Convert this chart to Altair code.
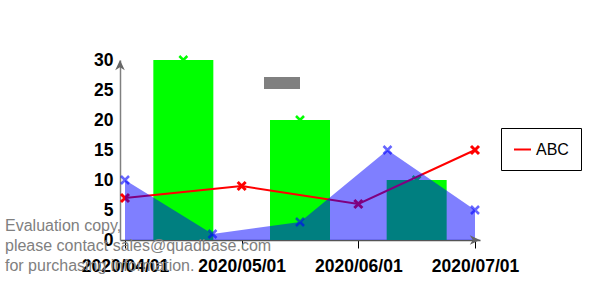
import altair as alt
import pandas as pd

# ---- data ----
tick_labels = ["2020/04/01", "2020/05/01", "2020/06/01", "2020/07/01"]
tick_pos = [0, 1, 2, 3]

bar_x = [0.5, 1.5, 2.5]
bar_y = [30, 20, 10]

red_x = [0, 1, 2, 3]
red_y = [7, 9, 6, 15]
series_name = "ABC"

blue_x = [0, 0.75, 1.5, 2.25, 3]
blue_y = [10, 1, 3, 15, 5]

watermark = ["Evaluation copy,", "please contact sales@quadbase.com", "for purchasing information."]

bars = pd.DataFrame({"x": bar_x, "y": bar_y})
red = pd.DataFrame({"x": red_x, "y": red_y, "series": series_name})
blue = pd.DataFrame({"x": blue_x, "y": blue_y})

FONT = "Liberation Sans"
label_expr = "[" + ",".join("'%s'" % t for t in tick_labels) + "][datum.value]"

x_axis = alt.Axis(values=tick_pos, labelExpr=label_expr, grid=False, title=None,
                  tickSize=8, tickColor="black", tickWidth=1,
                  domainColor="#555555", domainWidth=1.5,
                  labelFont=FONT, labelFontSize=17.5, labelFontWeight="bold",
                  labelColor="black", labelPadding=9, labelFlush=False,
                  labelOverlap=False)
y_axis = alt.Axis(values=[0, 5, 10, 15, 20, 25, 30], grid=False, title=None,
                  ticks=False, domainColor="#808080", domainWidth=1.5,
                  labelFont=FONT, labelFontSize=17.5, labelFontWeight="bold",
                  labelColor="black", labelPadding=7)

def X():
    return alt.X("x:Q", scale=alt.Scale(domain=[0, 3], nice=False, zero=False), axis=x_axis)

def Y():
    return alt.Y("y:Q", scale=alt.Scale(domain=[0, 30], nice=False), axis=y_axis)

XSHAPE = "M-1,-1L1,1M-1,1L1,-1"

bar_layer = alt.Chart(bars).mark_bar(size=60, color="#00ff00").encode(x=X(), y=Y())
bar_pts = alt.Chart(bars).mark_point(shape=XSHAPE, size=64, strokeWidth=2.5,
                                     color="#00ff00", filled=False, opacity=1).encode(x=X(), y=Y())

red_line = alt.Chart(red).mark_line(strokeWidth=2).encode(
    x=X(), y=Y(),
    color=alt.Color("series:N", scale=alt.Scale(domain=[series_name], range=["#ff0000"]),
                    legend=alt.Legend(title=None, orient="none", legendX=381, legendY=68,
                                      strokeColor="black", fillColor="white", padding=12,
                                      symbolType="stroke", symbolSize=289, symbolStrokeWidth=2,
                                      labelFont=FONT, labelFontSize=16, labelOffset=4,
                                      labelColor="black")))
red_pts = alt.Chart(red).mark_point(shape=XSHAPE, size=64, strokeWidth=3,
                                    color="#ff0000", filled=False, opacity=1).encode(x=X(), y=Y())

blue_area = alt.Chart(blue).mark_area(color="#0000ff", opacity=0.5).encode(x=X(), y=Y())
blue_pts = alt.Chart(blue).mark_point(shape=XSHAPE, size=64, strokeWidth=2.5,
                                      color="#0000ff", filled=False, opacity=0.6).encode(x=X(), y=Y())

ARROW = "M0,-1L0.8,0.7L0,0.2L-0.8,0.7Z"
one = alt.Data(values=[{}])
arrow_y = alt.Chart(one).mark_point(shape=ARROW, size=144, filled=True, color="#666666",
                                    opacity=1).encode(x=alt.value(0), y=alt.value(6))
arrow_x = alt.Chart(one).mark_point(shape=ARROW, size=144, filled=True, color="#666666",
                                    opacity=1, angle=90).encode(x=alt.value(354), y=alt.value(180))

gray_rect = alt.Chart(one).mark_rect(color="#808080").encode(
    x=alt.value(144), x2=alt.value(180), y=alt.value(17), y2=alt.value(29))

wm = alt.Chart(one).mark_text(align="left", baseline="alphabetic", font=FONT, fontSize=16,
                              color="#808080", lineHeight=20).encode(
    x=alt.value(-115), y=alt.value(171), text=alt.value(watermark))

chart = alt.layer(bar_layer, bar_pts, red_line, red_pts, blue_area, blue_pts,
                  arrow_y, arrow_x, gray_rect, wm).properties(
    width=360, height=180,
    autosize=alt.AutoSizeParams(type="none"),
    padding={"left": 120, "top": 60, "right": 120, "bottom": 60},
    background="white",
).configure_view(stroke=None)

chart.save("out.html", embed_options={"renderer": "svg", "actions": False})
